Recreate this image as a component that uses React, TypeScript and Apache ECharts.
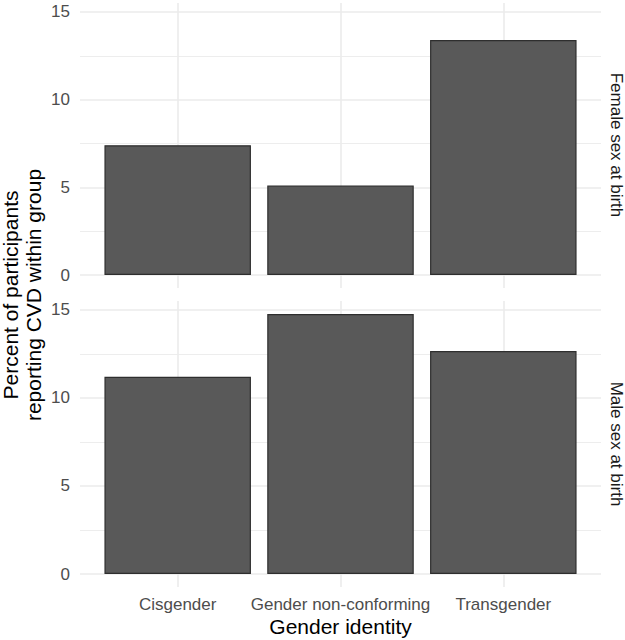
import React, { useEffect, useRef } from "react";
import * as echarts from "echarts";

const categories = ["Cisgender", "Gender non-conforming", "Transgender"];
const femaleValues = [7.4, 5.1, 13.4];
const maleValues = [11.2, 14.77, 12.67];
const yTicks = [0, 5, 10, 15];
const yMinorTicks = [2.5, 7.5, 12.5];
const panelLabels = ["Female sex at birth", "Male sex at birth"];

const FONT = "'Liberation Sans', Arial, sans-serif";

export default function App() {
  const ref = useRef<HTMLDivElement>(null);
  useEffect(() => {
    document.body.style.margin = "0";
    const chart = echarts.init(ref.current!, null, { renderer: "svg" });
    const maxVal = Math.max(...femaleValues, ...maleValues);
    const yMin = -0.05 * maxVal;
    const yMax = 1.05 * maxVal;
    const xPos = categories.map((_, i) => i + 1);

    const gridLines = [
      ...yTicks.map((v) => ({ yAxis: v, lineStyle: { width: 1.6, color: "#ebebeb", type: "solid" } })),
      ...yMinorTicks.map((v) => ({ yAxis: v, lineStyle: { width: 0.9, color: "#ebebeb", type: "solid" } })),
      ...xPos.map((v) => ({ xAxis: v, lineStyle: { width: 1.6, color: "#ebebeb", type: "solid" } })),
    ];

    const xAxisBase = (gridIndex: number, showLabels: boolean) => ({
      type: "value",
      gridIndex,
      min: 0.4,
      max: categories.length + 0.6,
      axisLine: { show: false },
      axisTick: { show: false },
      splitLine: { show: false },
      axisLabel: {
        show: showLabels,
        customValues: xPos,
        formatter: (v: number) => categories[Math.round(v) - 1] ?? "",
        color: "#4d4d4d",
        fontSize: 17,
        fontFamily: FONT,
        margin: 9,
      },
      ...(showLabels
        ? {
            name: "Gender identity",
            nameLocation: "middle",
            nameGap: 29,
            nameTextStyle: { color: "#000", fontSize: 21, fontFamily: FONT },
          }
        : {}),
    });

    const yAxisBase = (gridIndex: number) => ({
      type: "value",
      gridIndex,
      min: yMin,
      max: yMax,
      axisLine: { show: false },
      axisTick: { show: false },
      splitLine: { show: false },
      axisLabel: {
        customValues: yTicks,
        color: "#4d4d4d",
        fontSize: 17,
        fontFamily: FONT,
        margin: 10,
      },
    });

    const barSeries = (idx: number, values: number[]) => ({
      type: "bar",
      xAxisIndex: idx,
      yAxisIndex: idx,
      data: values.map((v, i) => [xPos[i], v]),
      barWidth: 146.5,
      z: 2,
      itemStyle: { color: "#595959", borderColor: "#2e2e2e", borderWidth: 1.2 },
      markLine: {
        silent: true,
        symbol: ["none", "none"],
        z: 1,
        label: { show: false },
        emphasis: { disabled: true },
        data: gridLines,
      },
    });

    chart.setOption({
      animation: false,
      backgroundColor: "#ffffff",
      grid: [
        { left: 80, right: 24, top: 3, height: 285 },
        { left: 80, right: 24, top: 301, height: 286 },
      ],
      xAxis: [xAxisBase(0, false), xAxisBase(1, true)],
      yAxis: [yAxisBase(0), yAxisBase(1)],
      series: [barSeries(0, femaleValues), barSeries(1, maleValues)],
      graphic: [
        {
          type: "text",
          x: 22,
          y: 295,
          rotation: Math.PI / 2,
          style: {
            text: "Percent of participants\nreporting CVD within group",
            fill: "#000",
            font: `21px ${FONT}`,
            align: "center",
            verticalAlign: "middle",
            lineHeight: 23,
          },
        },
        {
          type: "text",
          x: 616,
          y: 145,
          rotation: -Math.PI / 2,
          style: {
            text: panelLabels[0],
            fill: "#1a1a1a",
            font: `17px ${FONT}`,
            align: "center",
            verticalAlign: "middle",
          },
        },
        {
          type: "text",
          x: 616,
          y: 444,
          rotation: -Math.PI / 2,
          style: {
            text: panelLabels[1],
            fill: "#1a1a1a",
            font: `17px ${FONT}`,
            align: "center",
            verticalAlign: "middle",
          },
        },
      ],
    });
    return () => chart.dispose();
  }, []);
  return <div ref={ref} style={{ width: 625, height: 640 }} />;
}
